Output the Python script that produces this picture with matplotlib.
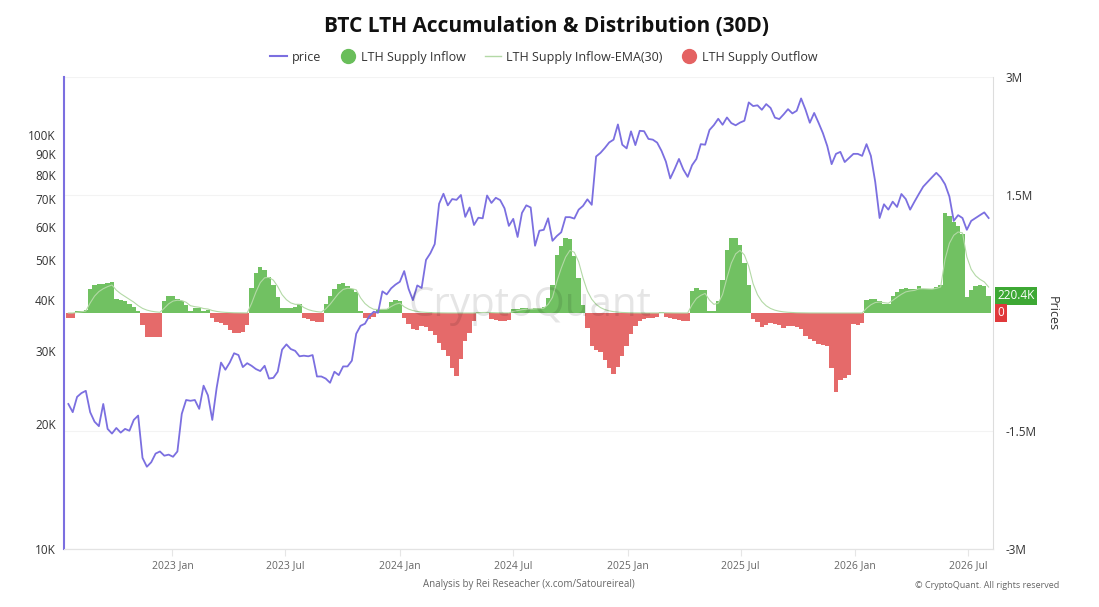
import numpy as np
import pandas as pd
import matplotlib
matplotlib.use("Agg")
import matplotlib.pyplot as plt
import matplotlib.dates as mdates
import matplotlib.transforms as mtrans
from matplotlib.lines import Line2D

plt.rcParams['font.family'] = ['Open Sans', 'DejaVu Sans']

# weekly samples, first one on 2022-07-18
start = "2022-07-18"

# BTC price, thousands USD
price_k = [
    22.4, 21.4, 23.3, 23.8, 24.1, 21.4, 20.3, 19.8, 22.4, 19.5,
    19.0, 19.6, 19.1, 19.5, 19.3, 20.5, 21.0, 16.6, 15.8, 16.2,
    17.0, 17.2, 16.8, 16.9, 16.7, 17.2, 21.2, 22.9, 22.8, 22.9,
    21.8, 24.8, 23.5, 20.5, 24.5, 28.2, 27.1, 28.2, 29.7, 29.4,
    27.5, 28.1, 27.7, 27.2, 26.9, 27.7, 25.8, 25.9, 26.8, 30.3,
    31.2, 30.4, 30.1, 29.2, 29.3, 29.2, 29.4, 26.1, 26.1, 25.8,
    25.2, 26.8, 26.3, 27.6, 27.6, 28.5, 33.1, 34.6, 35.0, 36.5,
    37.4, 37.2, 41.9, 41.2, 42.6, 43.5, 44.2, 46.9, 42.5, 39.9,
    43.3, 42.7, 49.9, 51.8, 54.5, 68.2, 72.1, 67.6, 70.0, 69.7,
    71.6, 63.4, 66.8, 60.6, 63.1, 62.9, 71.4, 68.5, 70.5, 69.6,
    66.5, 60.3, 62.7, 56.7, 64.8, 67.6, 66.8, 54.0, 58.7, 59.0,
    62.9, 55.5, 57.0, 58.2, 63.3, 63.3, 62.8, 66.0, 67.4, 69.9,
    67.8, 88.7, 90.5, 93.0, 95.9, 97.4, 106.0, 94.7, 92.8, 102.0,
    94.5, 102.3, 102.1, 97.8, 97.4, 95.8, 91.5, 86.2, 78.5, 82.7,
    87.5, 82.5, 79.2, 84.5, 87.5, 95.0, 94.7, 102.8, 105.6, 109.4,
    105.8, 110.2, 106.8, 105.5, 107.1, 108.2, 119.8, 117.4, 117.9, 115.0,
    118.7, 116.2, 110.1, 109.2, 112.1, 115.4, 112.7, 114.4, 122.5, 115.2,
    107.0, 113.0, 107.0, 101.0, 94.0, 85.0, 90.0, 91.0, 86.0, 88.0,
    90.0, 90.0, 89.0, 95.0, 89.0, 77.0, 63.0, 68.0, 66.0, 69.0,
    67.0, 72.0, 70.0, 66.0, 69.0, 72.0, 75.0, 77.0, 79.0, 81.0,
    79.0, 76.0, 71.0, 62.0, 64.0, 63.0, 59.0, 62.0, 63.0, 64.0,
    65.0, 63.0,
]

# LTH supply net flow (30D), thousands BTC: >0 inflow, <0 outflow
flow_k = [
    -60, -60, 20, 30, 40, 300, 360, 370, 370, 380,
    390, 180, 170, 150, 110, 80, 20, -150, -300, -310,
    -310, -300, 150, 210, 210, 180, 150, 100, 20, 60,
    60, 30, 40, -60, -110, -130, -150, -220, -260, -260,
    -240, -150, 320, 510, 590, 550, 460, 360, 200, 60,
    60, 60, 80, 110, -60, -80, -100, -120, -120, 120,
    210, 300, 370, 380, 340, 300, 270, 20, -60, -70,
    -50, 40, 50, 50, 140, 160, 150, -60, -140, -200,
    -220, -170, -180, -230, -280, -380, -470, -550, -700, -800,
    -580, -360, -250, -100, 10, 10, 10, -80, -90, -100,
    -100, -90, 50, 50, 60, 60, 50, 60, 60, 70,
    190, 350, 740, 850, 950, 940, 730, 450, 100, -190,
    -420, -470, -490, -600, -700, -770, -690, -550, -420, -270,
    -160, -100, -70, -60, -60, -50, 10, -50, -60, -70,
    -90, -100, -100, 280, 320, 290, 290, 20, 20, 150,
    420, 800, 950, 950, 870, 640, 350, -80, -120, -180,
    -150, -130, -140, -150, -190, -170, -170, -180, -200, -290,
    -330, -360, -400, -410, -420, -700, -1000, -850, -820, -790,
    -140, -150, -130, 160, 180, 180, 150, 120, 110, 220,
    270, 300, 320, 300, 300, 340, 310, 300, 300, 330,
    360, 1270, 1230, 1160, 1100, 1000, 200, 290, 340, 350,
    340, 220.4,
]

price_ticks = [10, 20, 30, 40, 50, 60, 70, 80, 90, 100]
flow_ticks = [-3, -1.5, 1.5, 3]
flow_tick_labels = ["-3M", "-1.5M", "1.5M", "3M"]

dates = pd.date_range(start, periods=len(price_k), freq="7D")
price = np.array(price_k) * 1000
flow = np.array(flow_k) * 1000
inflow = np.clip(flow, 0, None)
outflow = np.clip(flow, None, 0)
ema = pd.Series(inflow).ewm(alpha=0.373, adjust=False).mean().values

c_price = '#7b6fe0'
c_green = '#69be5a'
c_red = '#e46262'
c_ema = '#b3d9a6'

fig = plt.figure(figsize=(10.99, 6.07), dpi=100)
ax = fig.add_axes([64/1099, 58/607, 929/1099, 472/607])
ax2 = ax.twinx()
ax.set_zorder(ax2.get_zorder() + 1)
ax.patch.set_visible(False)

# flows on right axis
ax2.bar(dates, inflow, width=7, color=c_green, linewidth=0, alpha=0.95)
ax2.bar(dates, outflow, width=7, color=c_red, linewidth=0, alpha=0.95)
ax2.plot(dates, ema, color=c_ema, lw=0.8)
ax2.set_ylim(-3e6, 3e6)
ax2.set_yticks([t * 1e6 for t in flow_ticks])
ax2.set_yticklabels(flow_tick_labels)
ax2.tick_params(axis='y', length=0, labelsize=8.5, labelcolor='#333333', pad=9)
ax2.grid(axis='y', color='#f3f3f3', lw=0.8)

# price on left log axis
ax.plot(dates, price, color=c_price, lw=1.3)
ax.set_yscale('log')
ax.set_ylim(10000, 138000)
ax.set_yticks([t * 1000 for t in price_ticks])
ax.set_yticklabels([f"{t}K" for t in price_ticks])
ax.yaxis.set_minor_locator(matplotlib.ticker.NullLocator())
ax.tick_params(axis='y', length=0, labelsize=8.5, labelcolor='#333333', pad=6)

ax.set_xlim(pd.Timestamp("2022-07-11"), pd.Timestamp("2026-08-10"))
ax.xaxis.set_major_locator(mdates.MonthLocator(bymonth=[1, 7]))
ax.xaxis.set_major_formatter(mdates.DateFormatter('%Y %b'))
ax.tick_params(axis='x', length=5, color='#e6e6e6', labelsize=7.5,
               labelcolor='#666666', pad=3)

for a in (ax, ax2):
    a.spines['top'].set_visible(False)
    a.spines['bottom'].set_color('#e3e3e3')
ax.spines['right'].set_visible(False)
ax.spines['left'].set_color(c_price)
ax.spines['left'].set_linewidth(1.5)
ax2.spines['left'].set_visible(False)
ax2.spines['right'].set_color('#dddddd')

# last value boxes on the right axis
tr = mtrans.blended_transform_factory(ax2.transAxes, ax2.transData)
ax2.text(1.005, flow[-1], f"{flow_k[-1]}K", transform=tr, ha='left', va='center',
         color='white', fontsize=8.5,
         bbox=dict(boxstyle='square,pad=0.22', fc='#3da834', ec='none'))
ax2.text(1.005, 0, "0", transform=tr, ha='left', va='center',
         color='white', fontsize=8.5,
         bbox=dict(boxstyle='square,pad=0.22', fc='#e0393b', ec='none'))
fig.text(1052/1099, 1 - 314/607, "Prices", rotation=270, ha='center', va='center',
         fontsize=9, color='#333333')

# watermark
fig.text(530/1099, 1 - 306/607, "CryptoQuant", ha='center', va='center',
         fontsize=29, color='#000000', alpha=0.1)

fig.text(0.497, 1 - 26/607, "BTC LTH Accumulation & Distribution (30D)",
         ha='center', va='center', fontsize=15, fontweight='bold', color='#111111')

handles = [
    Line2D([], [], color=c_price, lw=1.5),
    Line2D([], [], color=c_green, marker='o', ls='none', markersize=10),
    Line2D([], [], color=c_ema, lw=1),
    Line2D([], [], color=c_red, marker='o', ls='none', markersize=10),
]
labels = ["price", "LTH Supply Inflow", "LTH Supply Inflow-EMA(30)", "LTH Supply Outflow"]
fig.legend(handles, labels, loc='center', bbox_to_anchor=(0.495, 1 - 57/607), ncol=4,
           frameon=False, fontsize=9, handlelength=1.3, handletextpad=0.4,
           columnspacing=1.5, labelcolor='#333333')

fig.text(529/1099, 1 - 584/607, "Analysis by Rei Reseacher (x.com/Satoureireal)",
         ha='center', va='center', fontsize=7, color='#666666')
fig.text(1059/1099, 1 - 585/607, "\u00a9 CryptoQuant. All rights reserved",
         ha='right', va='center', fontsize=6.5, color='#666666')

fig.savefig("out.png", dpi=100)
